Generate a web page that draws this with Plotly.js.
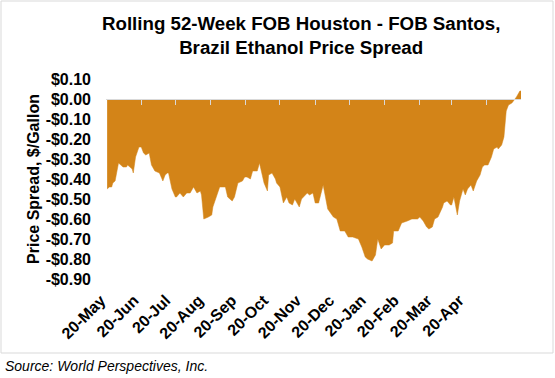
<!DOCTYPE html>
<html>
<head>
<meta charset="utf-8">
<script src="https://cdn.plot.ly/plotly-3.0.1.min.js"></script>
<style>html,body{margin:0;padding:0;background:#fff;}#chart{width:555px;height:378px;}</style>
</head>
<body>
<div id="chart"></div>
<script>
// Day offset from 20-May (start of the rolling 52-week window)
const days = [1,3,5,6,8,10,11,13,15,18,19,21,23,24,26,29,31,33,35,38,40,43,47,50,52,54,55,58,61,62,65,68,71,74,77,80,83,84,86,90,93,94,98,100,105,107,111,113,116,120,122,124,127,129,133,135,137,139,142,143,146,149,150,153,156,159,161,164,166,170,172,177,179,182,184,187,191,193,195,200,203,206,210,213,217,222,225,228,230,234,237,239,242,245,249,252,253,257,260,265,269,274,276,279,282,284,287,289,292,296,297,300,303,304,306,309,311,314,316,318,321,323,326,329,331,333,336,339,341,344,345,348,350,352,354,357,360,361,364,365];
// Price spread, $/gallon (FOB Houston - FOB Santos)
const spread = [-0.45,-0.44,-0.44,-0.42,-0.41,-0.34,-0.32,-0.33,-0.34,-0.34,-0.33,-0.34,-0.35,-0.37,-0.29,-0.24,-0.24,-0.27,-0.28,-0.27,-0.33,-0.36,-0.37,-0.41,-0.38,-0.37,-0.37,-0.45,-0.49,-0.49,-0.47,-0.49,-0.47,-0.47,-0.44,-0.47,-0.46,-0.48,-0.60,-0.59,-0.58,-0.54,-0.48,-0.44,-0.44,-0.49,-0.51,-0.49,-0.42,-0.41,-0.39,-0.39,-0.40,-0.36,-0.36,-0.32,-0.37,-0.42,-0.46,-0.38,-0.37,-0.40,-0.42,-0.44,-0.52,-0.49,-0.52,-0.53,-0.50,-0.54,-0.50,-0.47,-0.48,-0.47,-0.52,-0.52,-0.43,-0.49,-0.55,-0.59,-0.60,-0.66,-0.66,-0.69,-0.69,-0.70,-0.74,-0.79,-0.80,-0.81,-0.78,-0.70,-0.75,-0.73,-0.73,-0.72,-0.66,-0.66,-0.62,-0.61,-0.60,-0.60,-0.59,-0.61,-0.64,-0.65,-0.64,-0.60,-0.59,-0.54,-0.52,-0.51,-0.53,-0.53,-0.49,-0.58,-0.51,-0.45,-0.48,-0.45,-0.43,-0.46,-0.41,-0.38,-0.34,-0.33,-0.33,-0.29,-0.25,-0.24,-0.25,-0.23,-0.19,-0.06,-0.03,-0.02,0.00,0.01,0.04,0.04];

const xLabels = ['20-May','20-Jun','20-Jul','20-Aug','20-Sep','20-Oct','20-Nov','20-Dec','20-Jan','20-Feb','20-Mar','20-Apr'];
const xLabelDays = [0,29,57,86,115,143,172,201,229,258,287,315];
const monthTickDays = [31,61,92,123,153,184,214,245,276,304,335];
const yTickVals = [0.1,0,-0.1,-0.2,-0.3,-0.4,-0.5,-0.6,-0.7,-0.8,-0.9];
const yTickText = ['$0.10','$0.00','-$0.10','-$0.20','-$0.30','-$0.40','-$0.50','-$0.60','-$0.70','-$0.80','-$0.90'];

const FONT = 'Liberation Sans, Arial, sans-serif';
const W = 555, H = 378, L = 106, R = 34, T = 79, B = 99;
const pw = W - L - R, ph = H - T - B;
const px = v => (v - L) / pw;
const py = v => (H - B - v) / ph;

const traces = [
  {
    x: days, y: spread, type: 'scatter', mode: 'lines',
    fill: 'tozeroy', fillcolor: 'rgb(211,132,24)',
    line: {color: 'rgb(211,132,24)', width: 0.5},
    hoverinfo: 'skip', showlegend: false
  },
  { x: [], y: [], xaxis: 'x2', type: 'scatter', showlegend: false }
];

const layout = {
  width: W, height: H,
  margin: {l: L, r: R, t: T, b: B},
  paper_bgcolor: '#fff', plot_bgcolor: '#fff',
  font: {family: FONT, color: '#000'},
  title: {
    text: 'Rolling 52-Week FOB Houston - FOB Santos,<br>Brazil Ethanol Price Spread',
    font: {family: FONT, size: 18.7, color: '#000', weight: 'bold'},
    x: 261 / W, xanchor: 'center', xref: 'paper',
    y: 1 - 30 / H, yanchor: 'top', yref: 'container'
  },
  xaxis: {
    range: [0, 365], showgrid: false, zeroline: false, showline: false,
    ticks: '', tickvals: xLabelDays, ticktext: xLabels, tickangle: -45,
    tickfont: {family: FONT, size: 16, color: '#000', weight: 'bold'},
    ticklabelstandoff: 8, ticklabelshift: -5, automargin: false
  },
  xaxis2: {
    overlaying: 'x', matches: 'x', anchor: 'free', position: 0.9, side: 'bottom',
    range: [0, 365], showgrid: false, zeroline: false,
    showline: true, linecolor: '#d9d9d9', linewidth: 1,
    ticks: 'outside', ticklen: 5, tickcolor: '#d9d9d9', tickwidth: 1,
    tickvals: monthTickDays, showticklabels: false
  },
  yaxis: {
    range: [-0.9, 0.1], showgrid: false, zeroline: false, showline: false,
    ticks: '', tickvals: yTickVals, ticktext: yTickText,
    tickfont: {family: FONT, size: 16, color: '#000', weight: 'bold'},
    ticklabelstandoff: 14, automargin: false,
    title: {text: 'Price Spread, $/Gallon', standoff: 2,
            font: {family: FONT, size: 16, color: '#000', weight: 'bold'}}
  },
  shapes: [
    {type: 'rect', xref: 'paper', yref: 'paper',
     x0: px(1), x1: px(553), y0: py(353), y1: py(1),
     line: {color: '#d9d9d9', width: 1}, fillcolor: 'rgba(0,0,0,0)', layer: 'below'}
  ],
  annotations: [
    {text: 'Source: World Perspectives, Inc.', xref: 'paper', yref: 'paper',
     x: px(3), y: py(366), xanchor: 'left', yanchor: 'middle', showarrow: false,
     font: {family: FONT, size: 14, color: '#000', style: 'italic'}}
  ]
};

Plotly.newPlot('chart', traces, layout, {displayModeBar: false, staticPlot: true});
</script>
</body>
</html>
